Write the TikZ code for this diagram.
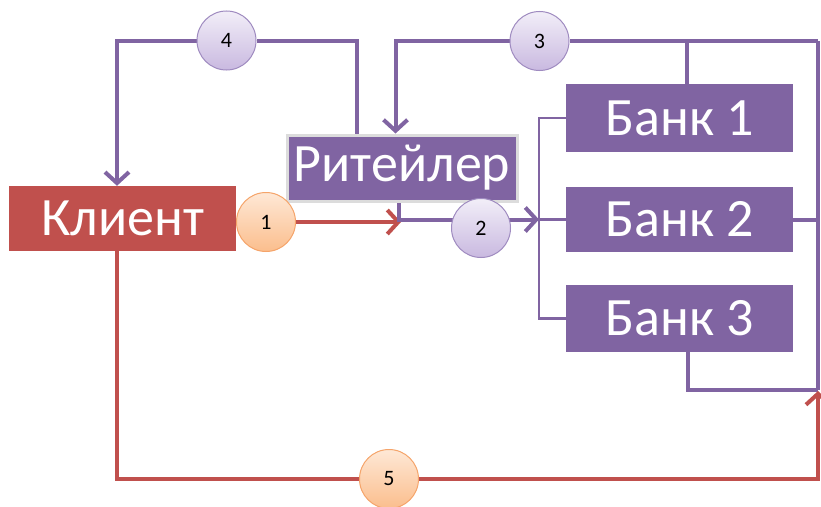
\documentclass[tikz,border=0pt]{standalone}
\usepackage{fontspec}
\setmainfont{Carlito}
\usetikzlibrary{arrows.meta,calc}
\definecolor{cred}{HTML}{C0504D}
\definecolor{cpurp}{HTML}{8064A2}
\definecolor{cgray}{HTML}{DCDCDC}
\definecolor{lavtop}{HTML}{F2EEF8}
\definecolor{lavbot}{HTML}{C9B9E0}
\definecolor{lavborder}{HTML}{9F8BC0}
\definecolor{ortop}{HTML}{FEE8D6}
\definecolor{orbot}{HTML}{FBBE8D}
\definecolor{orborder}{HTML}{F5A46A}
\pgfdeclarelayer{bg}
\pgfsetlayers{bg,main}
\tikzset{
  box/.style={rectangle, inner sep=0pt, text=white, font=\fontsize{54}{54}\selectfont},
  redbox/.style={box, fill=cred, minimum width=227pt, minimum height=65pt},
  purpbox/.style={box, fill=cpurp, minimum width=227pt, minimum height=66pt},
  circp/.style={circle, minimum size=59pt, inner sep=0pt, draw=lavborder, line width=1pt,
     top color=lavtop, bottom color=lavbot, font=\fontsize{22}{22}\selectfont},
  circo/.style={circle, minimum size=59pt, inner sep=0pt, draw=orborder, line width=1pt,
     top color=ortop, bottom color=orbot, font=\fontsize{22}{22}\selectfont},
  pline/.style={draw=cpurp, line width=4pt},
  thinp/.style={draw=cpurp, line width=2.5pt},
  rline/.style={draw=cred, line width=4pt},
  arr/.style={-{Straight Barb[length=11pt,width=24pt]}},
}
\begin{document}
\begin{tikzpicture}[x=1pt,y=-1pt]
\useasboundingbox (0,0) rectangle (821,506);
% boxes
\node[redbox] (cli) at (122.5,218.5) {Клиент};
\node[purpbox, minimum width=230pt, draw=cgray, line width=3pt] (ret) at (402,168) {Ритейлер};
\node[purpbox, minimum height=68pt] (b1) at (679.5,118) {Банк 1};
\node[purpbox, minimum height=65pt] (b2) at (679.5,219.5) {Банк 2};
\node[purpbox, minimum height=67pt] (b3) at (679.5,318.5) {Банк 3};
% circles
\node[circo] (c1) at (266,222) {1};
\node[circp] (c2) at (481,228) {2};
\node[circp] (c3) at (539.5,41) {3};
\node[circp] (c4) at (226.5,40.5) {4};
\node[circo] (c5) at (389,479) {5};
% helper coordinates
\coordinate (R) at (818,41);
\coordinate (Rb) at (818,390);
\coordinate (Rt) at (818,391);
\coordinate (bk) at (539,0);
\coordinate (j) at (401,222);
\begin{pgfonlayer}{bg}
% 4
\draw[pline] ([xshift=71pt]ret.north west) |- (c4);
\draw[pline,arr] (c4) -| ([xshift=-5.5pt]cli.north);
% 3
\draw[pline] (R) -- (c3);
\draw[pline,arr] (c3) -| ([xshift=110pt]ret.north west);
\draw[pline] ([xshift=7.5pt]b1.north) -- ([xshift=7.5pt]b1.north |- R);
\draw[pline] (R) -- (Rb);
\draw[pline] (b2.east) -- (b2.east -| R);
\draw[pline] ([xshift=8.5pt]b3.south) |- (Rb);
% 1
\draw[rline] (cli.east |- c1) -- (c1);
\draw[rline,arr] (c1) -- (j);
% 2
\draw[pline,arr] ([xshift=113pt]ret.south west) |- (b2.west -| bk);
\draw[thinp] (b1.west) -- (b1.west -| bk) -- (b3.west -| bk) -- (b3.west);
\draw[thinp] (b2.west) -- (b2.west -| bk);
% 5
\draw[rline] ([xshift=-5.5pt]cli.south) |- (c5);
\draw[rline,arr] (c5) -| (Rt);
\end{pgfonlayer}
\end{tikzpicture}
\end{document}
